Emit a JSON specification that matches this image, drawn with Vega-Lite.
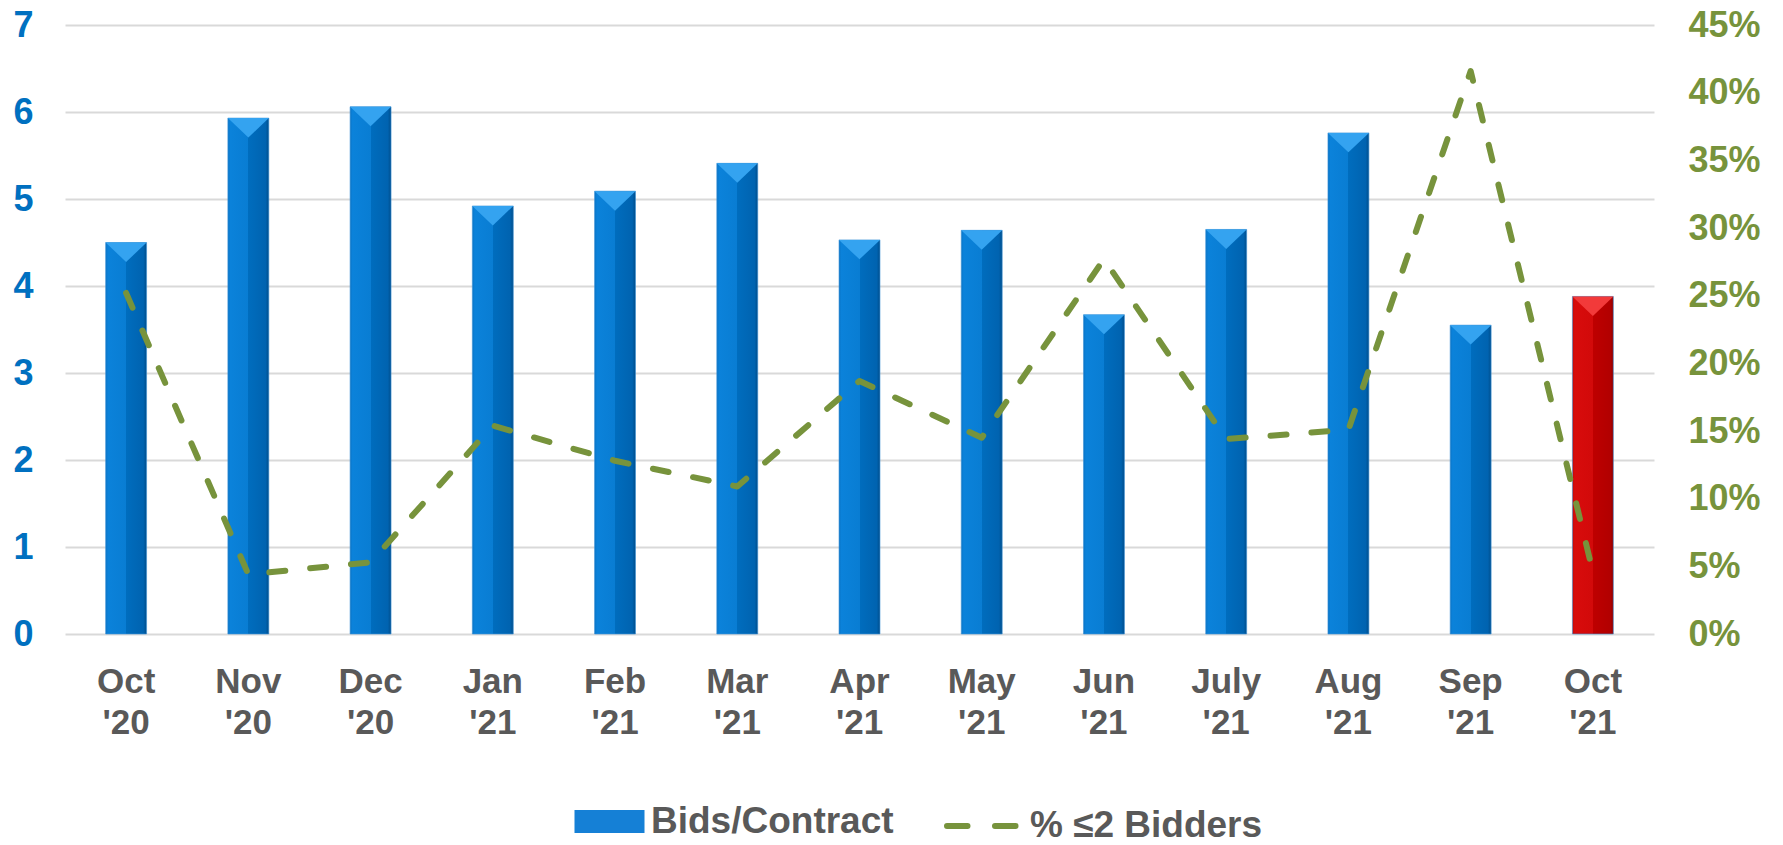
{
  "$schema": "https://vega.github.io/schema/vega-lite/v6.json",
  "autosize": {"type": "none"},
  "padding": {"left": 65, "top": 25, "right": 129, "bottom": 211},
  "width": 1589,
  "height": 609,
  "background": "#ffffff",
  "config": {"view": {"stroke": null}, "font": "Liberation Sans"},
  "data": {"values": [
    {"month": "Oct '20", "bids": 4.5, "pct": 0.252},
    {"month": "Nov '20", "bids": 5.93, "pct": 0.044},
    {"month": "Dec '20", "bids": 6.06, "pct": 0.053},
    {"month": "Jan '21", "bids": 4.92, "pct": 0.154},
    {"month": "Feb '21", "bids": 5.09, "pct": 0.128},
    {"month": "Mar '21", "bids": 5.41, "pct": 0.109},
    {"month": "Apr '21", "bids": 4.53, "pct": 0.187},
    {"month": "May '21", "bids": 4.64, "pct": 0.145},
    {"month": "Jun '21", "bids": 3.67, "pct": 0.277},
    {"month": "July '21", "bids": 4.65, "pct": 0.144},
    {"month": "Aug '21", "bids": 5.76, "pct": 0.151},
    {"month": "Sep '21", "bids": 3.55, "pct": 0.416},
    {"month": "Oct '21", "bids": 3.88, "pct": 0.046}
  ]},
  "encoding": {
    "x": {
      "field": "month", "type": "nominal", "sort": null,
      "scale": {"paddingInner": 0.665, "paddingOuter": 0.3325},
      "axis": {
        "title": null, "labelAngle": 0, "domain": false, "ticks": false,
        "labelExpr": "split(datum.label, ' ')",
        "labelFont": "Liberation Sans", "labelFontSize": 35, "labelFontWeight": "bold",
        "labelColor": "#595959", "labelPadding": 30, "labelLineHeight": 41
      }
    }
  },
  "layer": [
    {
      "encoding": {
        "y": {
          "field": "bids", "type": "quantitative",
          "scale": {"domain": [0, 7], "nice": false},
          "axis": {
            "orient": "left", "title": null, "values": [0, 1, 2, 3, 4, 5, 6, 7],
            "grid": true, "gridColor": "#D9D9D9", "gridWidth": 2,
            "domain": false, "ticks": false,
            "labelFont": "Liberation Sans", "labelFontSize": 36, "labelFontWeight": "bold",
            "labelColor": "#0070C0", "labelPadding": 32
          }
        }
      },
      "layer": [
        {
          "mark": {"type": "bar", "opacity": 0},
          "encoding": {
            "fill": {
              "datum": "Bids/Contract",
              "scale": {"range": ["#1580D6"]},
              "legend": {
                "orient": "none", "legendX": 509, "legendY": 761, "title": null, "padding": 0,
                "symbolType": "M-1,-0.33H1V0.33H-1Z", "symbolSize": 4900,
                "symbolOpacity": 1, "symbolStrokeColor": "#0B60A8", "symbolStrokeWidth": 1,
                "labelFont": "Liberation Sans", "labelFontSize": 37, "labelFontWeight": "bold",
                "labelColor": "#595959", "labelOffset": 6, "labelLimit": 600,
                "encode": {"symbols": {"update": {
                  "opacity": {"value": 1},
                  "fill": {"value": {"gradient": "linear", "x1": 0, "y1": 0, "x2": 0, "y2": 1, "stops": [
                    {"offset": 0, "color": "#3AAAF4"},
                    {"offset": 0.3, "color": "#1C8EE2"},
                    {"offset": 0.5, "color": "#0A7BD2"},
                    {"offset": 1, "color": "#0060AA"}
                  ]}}
                }}}
              }
            }
          }
        },
        {
          "mark": {"type": "bar", "stroke": "#3F93D6", "strokeWidth": 1, "strokeOpacity": 0.6},
          "encoding": {
            "color": {
              "condition": {
                "test": "datum.month === \"Oct '21\"",
                "value": {"gradient": "linear", "x1": 0, "y1": 0, "x2": 1, "y2": 0, "stops": [
                  {"offset": 0, "color": "#C00808"},
                  {"offset": 0.06, "color": "#D80C0C"},
                  {"offset": 0.5, "color": "#D20A0A"},
                  {"offset": 0.5, "color": "#BE0000"},
                  {"offset": 0.92, "color": "#B20000"},
                  {"offset": 1, "color": "#8E0000"}
                ]}
              },
              "value": {"gradient": "linear", "x1": 0, "y1": 0, "x2": 1, "y2": 0, "stops": [
                {"offset": 0, "color": "#0A74C6"},
                {"offset": 0.06, "color": "#0B82DA"},
                {"offset": 0.5, "color": "#097DD3"},
                {"offset": 0.5, "color": "#006DBE"},
                {"offset": 0.92, "color": "#0063B0"},
                {"offset": 1, "color": "#004E8C"}
              ]}
            }
          }
        },
        {
          "mark": {"type": "point", "filled": true, "shape": "M-1,0L1,0L0,0.95Z", "size": 1681, "opacity": 1},
          "encoding": {
            "color": {
              "condition": {"test": "datum.month === \"Oct '21\"", "value": "#F23A3A"},
              "value": "#34A3F0"
            }
          }
        }
      ]
    },
    {
      "mark": {"type": "line", "strokeWidth": 6, "strokeDash": [16, 25], "strokeCap": "round", "strokeJoin": "round"},
      "encoding": {
        "x": {"field": "month", "type": "nominal", "sort": null, "bandPosition": 0.5},
        "y": {
          "field": "pct", "type": "quantitative",
          "scale": {"domain": [0, 0.45], "nice": false},
          "axis": {
            "orient": "right", "title": null,
            "values": [0, 0.05, 0.1, 0.15, 0.2, 0.25, 0.3, 0.35, 0.4, 0.45],
            "format": ".0%", "grid": false, "domain": false, "ticks": false,
            "labelFont": "Liberation Sans", "labelFontSize": 36, "labelFontWeight": "bold",
            "labelColor": "#77933C", "labelPadding": 34
          }
        },
        "stroke": {
          "datum": "% ≤2 Bidders",
          "scale": {"range": ["#77933C"]},
          "legend": {
            "orient": "none", "legendX": 879, "legendY": 761, "title": null, "padding": 0,
            "symbolType": "stroke", "symbolSize": 5476, "symbolStrokeWidth": 6,
            "symbolDash": [20.5, 27.5], "symbolStrokeColor": "#77933C",
            "labelFont": "Liberation Sans", "labelFontSize": 37, "labelFontWeight": "bold",
            "labelColor": "#595959", "labelOffset": 6, "labelLimit": 600,
            "encode": {"symbols": {"update": {"strokeCap": {"value": "round"}}}}
          }
        }
      }
    }
  ],
  "resolve": {"scale": {"y": "independent"}}
}
